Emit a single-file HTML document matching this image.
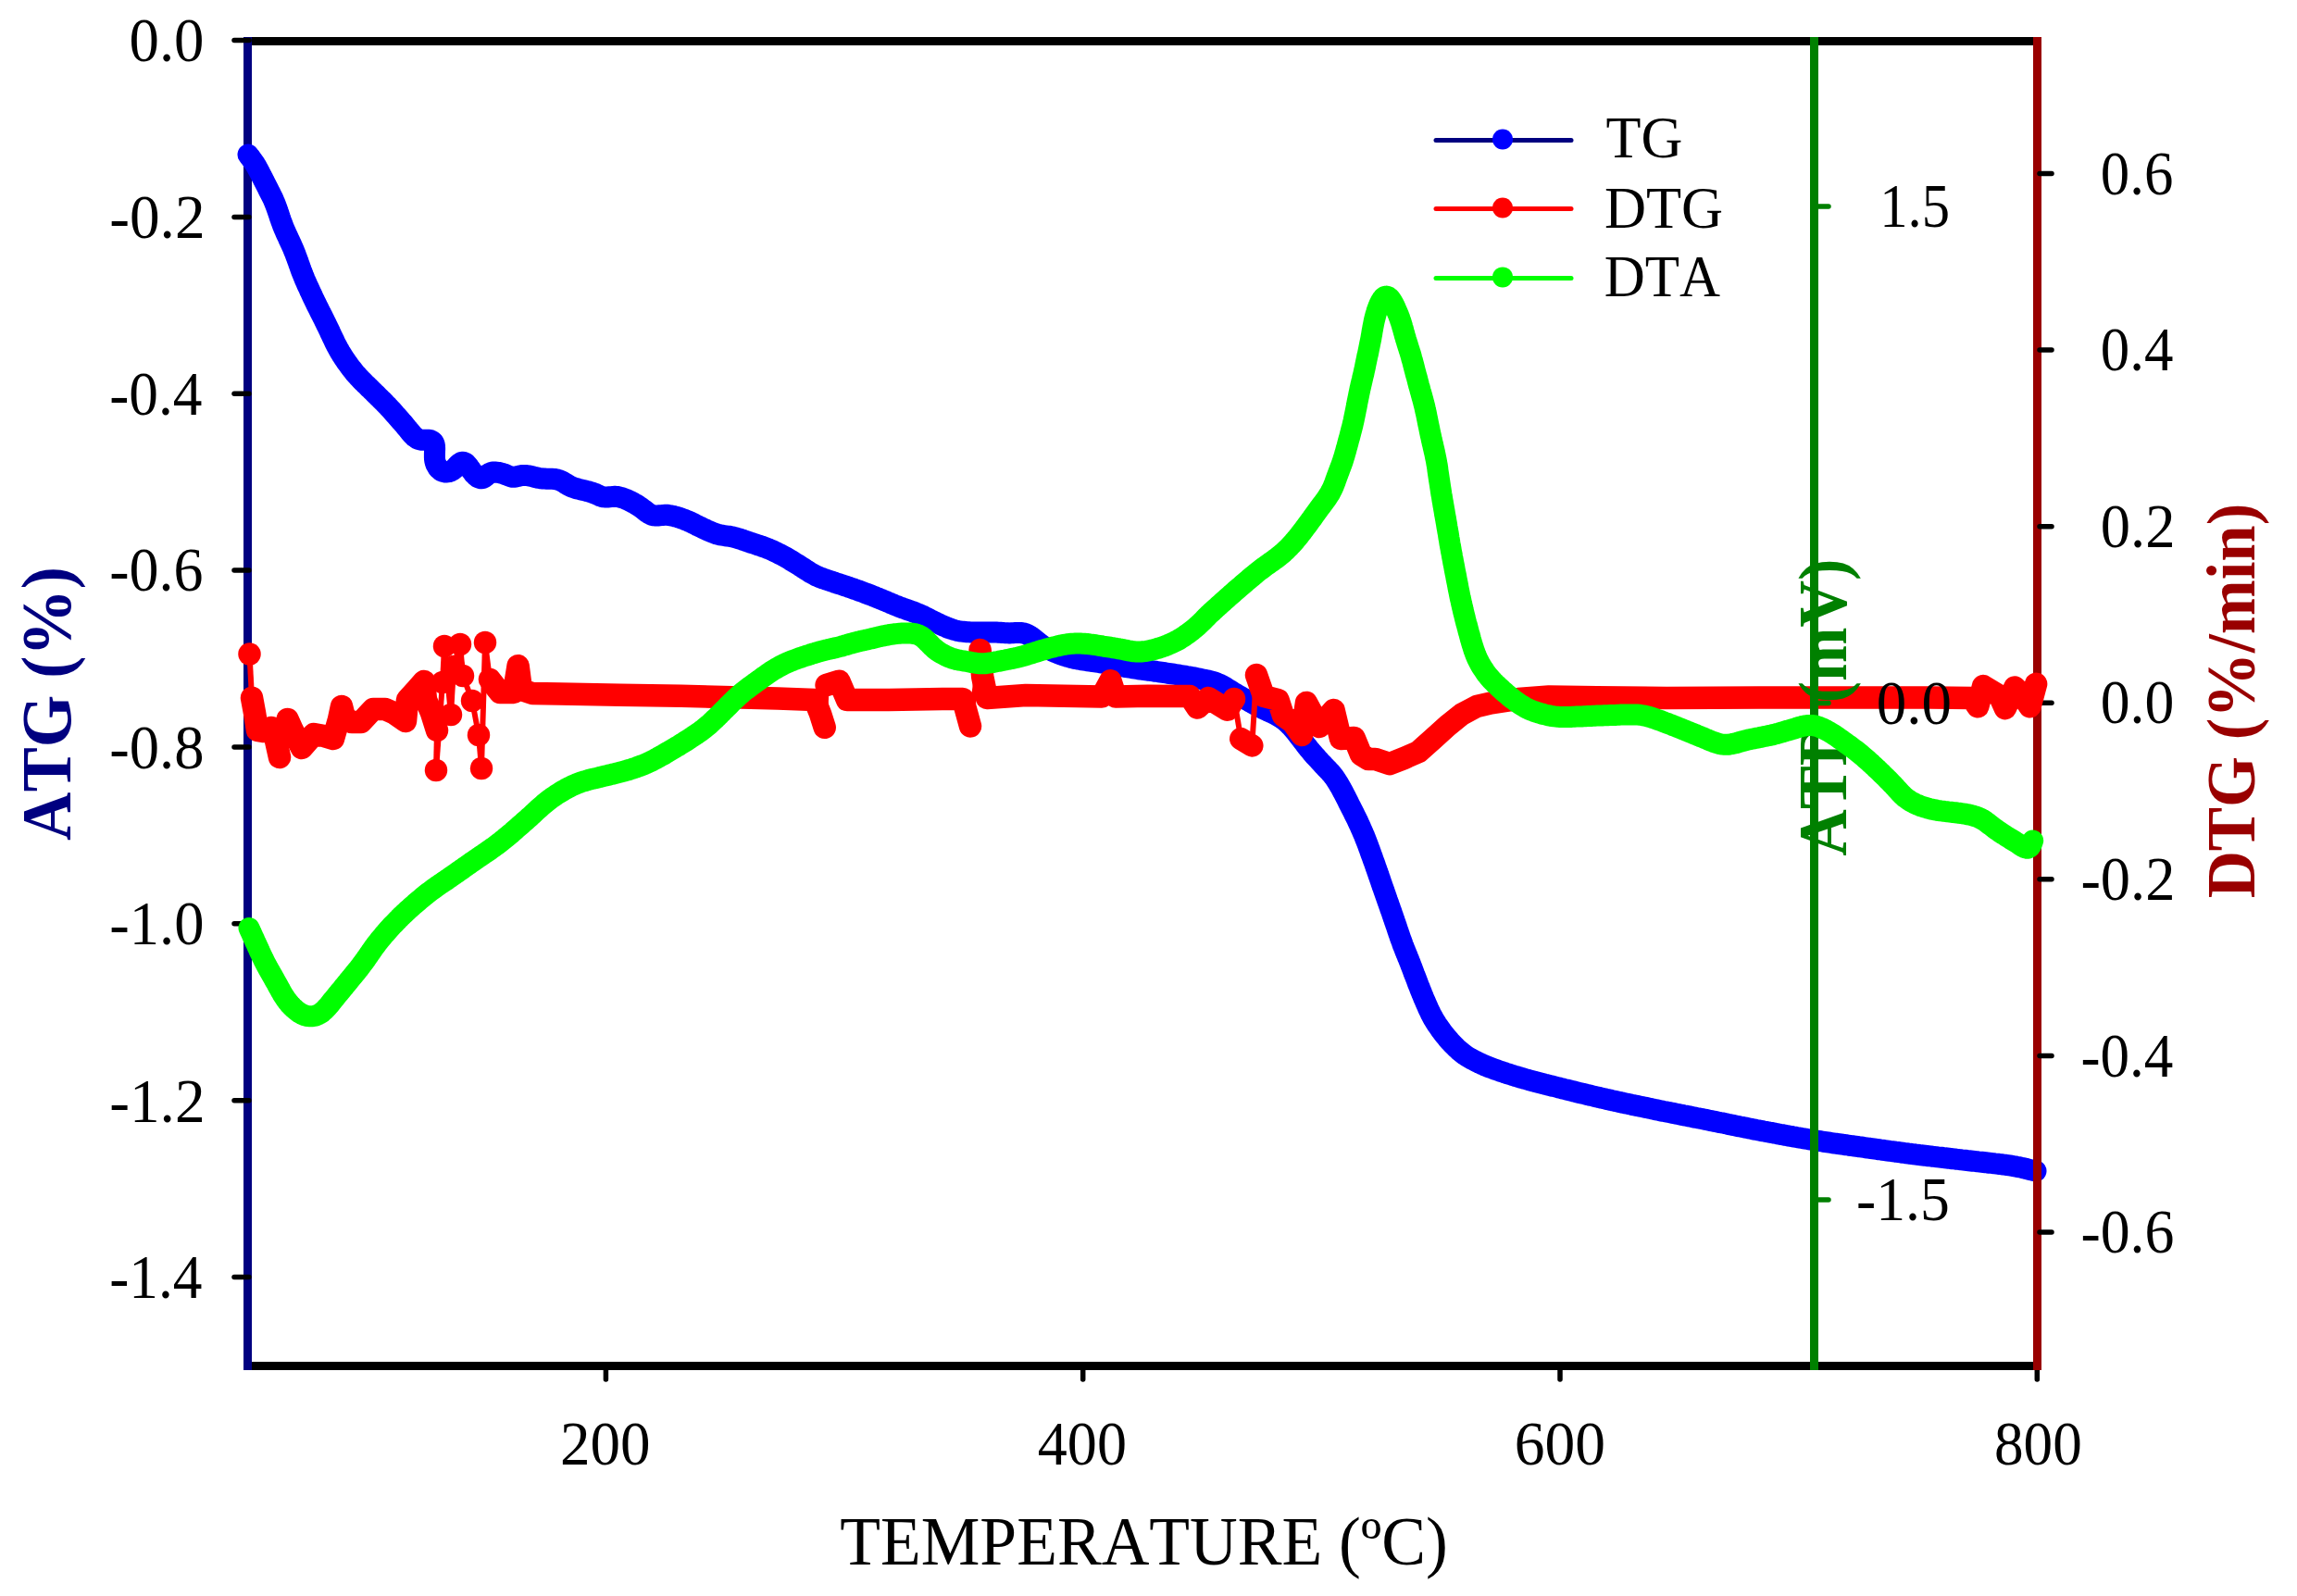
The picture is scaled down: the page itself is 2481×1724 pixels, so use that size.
<!DOCTYPE html><html><head><meta charset="utf-8"><style>html,body{margin:0;padding:0;background:#fff;}svg{display:block} text{font-kerning:none;font-feature-settings:"kern" 0;}</style></head><body><svg width="2481" height="1724" viewBox="0 0 2481 1724">
<rect width="100%" height="100%" fill="#fff"/>
<g stroke="#000" stroke-width="9" stroke-linecap="butt">
<line x1="263" y1="44.5" x2="2205" y2="44.5"/>
<line x1="263" y1="1475.5" x2="2205" y2="1475.5"/>
</g>
<line x1="267.5" y1="40" x2="267.5" y2="1480" stroke="#000080" stroke-width="9" stroke-linecap="butt"/>
<g stroke="#000" stroke-width="5.5" stroke-linecap="round">
<line x1="253" y1="43.5" x2="269" y2="43.5"/>
<line x1="253" y1="234.4" x2="269" y2="234.4"/>
<line x1="253" y1="425.2" x2="269" y2="425.2"/>
<line x1="253" y1="616.1" x2="269" y2="616.1"/>
<line x1="253" y1="806.9" x2="269" y2="806.9"/>
<line x1="253" y1="997.8" x2="269" y2="997.8"/>
<line x1="253" y1="1188.7" x2="269" y2="1188.7"/>
<line x1="253" y1="1379.5" x2="269" y2="1379.5"/>
</g>
<text font-family="Liberation Serif, Times New Roman, serif" font-size="67.5" fill="#000" text-anchor="end" transform="translate(220.49,65.95) scale(0.9600,1)">0.0</text>
<text font-family="Liberation Serif, Times New Roman, serif" font-size="67.5" fill="#000" text-anchor="end" transform="translate(221.51,257.39) scale(0.9670,1)">-0.2</text>
<text font-family="Liberation Serif, Times New Roman, serif" font-size="67.5" fill="#000" text-anchor="end" transform="translate(218.49,447.83) scale(0.9380,1)">-0.4</text>
<text font-family="Liberation Serif, Times New Roman, serif" font-size="67.5" fill="#000" text-anchor="end" transform="translate(219.47,638.27) scale(0.9475,1)">-0.6</text>
<text font-family="Liberation Serif, Times New Roman, serif" font-size="67.5" fill="#000" text-anchor="end" transform="translate(220.48,829.71) scale(0.9572,1)">-0.8</text>
<text font-family="Liberation Serif, Times New Roman, serif" font-size="67.5" fill="#000" text-anchor="end" transform="translate(220.48,1020.15) scale(0.9572,1)">-1.0</text>
<text font-family="Liberation Serif, Times New Roman, serif" font-size="67.5" fill="#000" text-anchor="end" transform="translate(221.51,1211.59) scale(0.9670,1)">-1.2</text>
<text font-family="Liberation Serif, Times New Roman, serif" font-size="67.5" fill="#000" text-anchor="end" transform="translate(218.49,1401.53) scale(0.9380,1)">-1.4</text>
<g stroke="#000" stroke-width="5.5" stroke-linecap="round">
<line x1="654.4" y1="1478" x2="654.4" y2="1490"/>
<line x1="1169.7" y1="1478" x2="1169.7" y2="1490"/>
<line x1="1685.0" y1="1478" x2="1685.0" y2="1490"/>
<line x1="2200.3" y1="1478" x2="2200.3" y2="1490"/>
</g>
<text font-family="Liberation Serif, Times New Roman, serif" font-size="67.5" fill="#000" text-anchor="middle" transform="translate(653.75,1581.90) scale(0.9640,1)">200</text>
<text font-family="Liberation Serif, Times New Roman, serif" font-size="67.5" fill="#000" text-anchor="middle" transform="translate(1168.86,1582.05) scale(0.9490,1)">400</text>
<text font-family="Liberation Serif, Times New Roman, serif" font-size="67.5" fill="#000" text-anchor="middle" transform="translate(1684.90,1582.20) scale(0.9709,1)">600</text>
<text font-family="Liberation Serif, Times New Roman, serif" font-size="67.5" fill="#000" text-anchor="middle" transform="translate(2201.41,1582.20) scale(0.9361,1)">800</text>
<text font-family="Liberation Serif, Times New Roman, serif" font-size="73.5" fill="#000" text-anchor="middle" transform="translate(1235.49,1690.00) scale(0.9740,1)">TEMPERATURE (ºC)</text>
<text font-family="Liberation Serif, Times New Roman, serif" font-size="75.4" font-weight="bold" fill="#000080" text-anchor="middle" transform="translate(75.65,760.01) rotate(-90) scale(0.9614,1)">ATG (%)</text>
<text font-family="Liberation Serif, Times New Roman, serif" font-size="73.6" font-weight="bold" fill="#990000" text-anchor="middle" transform="translate(2434.85,757.00) rotate(-90) scale(0.9614,1)">DTG (%/min)</text>
<polyline points="268.0,167.0 269.7,169.3 270.6,170.4 271.6,171.9 272.8,173.4 273.9,175.0 275.1,176.7 276.1,178.4 277.2,180.1 278.1,181.8 279.1,183.6 280.0,185.4 280.9,187.1 281.8,188.9 282.7,190.7 283.7,192.5 284.6,194.3 285.5,196.1 286.4,197.8 287.3,199.6 288.2,201.4 289.1,203.2 290.0,205.0 290.9,206.8 291.8,208.5 292.7,210.3 293.6,212.1 294.5,213.9 295.3,215.7 296.1,217.6 296.9,219.4 297.6,221.3 298.3,223.1 299.0,225.0 299.7,226.9 300.3,228.8 301.0,230.7 301.6,232.6 302.2,234.5 302.9,236.4 303.5,238.3 304.2,240.1 304.9,242.0 305.6,243.9 306.3,245.7 307.1,247.6 307.9,249.4 308.7,251.3 309.5,253.1 310.4,254.9 311.2,256.7 312.0,258.5 312.9,260.3 313.7,262.2 314.6,264.0 315.4,265.8 316.2,267.6 317.0,269.5 317.7,271.3 318.5,273.2 319.2,275.0 319.9,276.9 320.6,278.8 321.3,280.7 322.0,282.5 322.6,284.4 323.3,286.3 324.0,288.2 324.6,290.1 325.3,292.0 326.0,293.8 326.8,295.7 327.5,297.6 328.3,299.4 329.0,301.3 329.8,303.1 330.6,304.9 331.4,306.8 332.2,308.6 333.1,310.4 333.9,312.2 334.7,314.0 335.6,315.9 336.4,317.7 337.3,319.5 338.1,321.3 339.0,323.1 339.8,324.9 340.7,326.7 341.6,328.5 342.5,330.3 343.4,332.1 344.3,333.9 345.1,335.7 346.0,337.4 346.9,339.2 347.9,341.0 348.8,342.8 349.7,344.6 350.5,346.4 351.4,348.2 352.3,350.0 353.2,351.8 354.1,353.6 354.9,355.4 355.8,357.2 356.6,359.0 357.5,360.8 358.3,362.6 359.1,364.4 360.0,366.2 360.9,368.0 361.7,369.8 362.6,371.6 363.5,373.4 364.5,375.2 365.4,376.9 366.4,378.7 367.4,380.4 368.5,382.1 369.5,383.8 370.6,385.5 371.7,387.2 372.8,388.8 373.9,390.5 375.1,392.1 376.3,393.7 377.4,395.3 378.6,396.9 379.9,398.5 381.1,400.1 382.4,401.7 383.6,403.2 384.9,404.7 386.3,406.2 387.6,407.7 389.0,409.1 390.4,410.6 391.8,412.0 393.2,413.4 394.6,414.8 396.1,416.2 397.5,417.6 398.9,419.0 400.4,420.4 401.8,421.8 403.2,423.2 404.6,424.6 406.1,426.0 407.5,427.4 408.9,428.8 410.3,430.2 411.7,431.6 413.2,433.0 414.6,434.4 416.0,435.9 417.4,437.3 418.8,438.7 420.1,440.2 421.5,441.7 422.9,443.1 424.2,444.6 425.5,446.1 426.8,447.6 428.2,449.1 429.5,450.6 430.8,452.1 432.1,453.6 433.4,455.1 434.8,456.6 436.1,458.1 437.4,459.7 438.6,461.2 439.9,462.8 441.2,464.3 442.4,465.9 443.7,467.4 445.0,468.9 446.4,470.4 447.8,471.7 449.4,472.9 451.0,473.9 452.8,474.7 454.7,475.2 456.6,475.3 458.6,475.3 460.6,475.3 462.5,475.2 464.4,475.4 466.1,476.0 467.5,477.0 468.5,478.4 469.2,480.2 469.5,482.1 469.6,484.0 469.6,486.0 469.5,488.0 469.4,490.0 469.4,492.0 469.4,494.0 469.5,496.0 469.8,497.9 470.3,499.8 471.0,501.7 472.0,503.4 473.0,505.1 474.3,506.6 475.7,507.9 477.3,508.9 479.0,509.6 480.9,510.0 482.8,510.0 484.7,509.7 486.6,509.1 488.3,508.2 489.9,507.1 491.3,505.8 492.7,504.4 494.0,502.9 495.4,501.5 496.9,500.3 498.4,499.4 500.1,499.2 501.7,499.6 503.2,500.6 504.5,502.0 505.8,503.5 506.9,505.1 508.1,506.7 509.3,508.4 510.5,509.9 511.7,511.5 513.1,512.9 514.5,514.3 516.0,515.5 517.7,516.4 519.4,516.8 521.0,516.6 522.6,515.9 524.2,514.8 525.7,513.5 527.2,512.3 528.8,511.3 530.6,510.5 532.4,510.1 534.4,510.0 536.3,510.2 538.3,510.4 540.3,510.8 542.2,511.3 544.1,511.9 546.0,512.6 547.8,513.4 549.6,514.1 551.5,514.8 553.3,515.2 555.2,515.2 557.2,515.0 559.1,514.6 561.0,514.1 562.9,513.7 564.9,513.4 566.8,513.4 568.8,513.5 570.8,513.8 572.7,514.2 574.7,514.7 576.6,515.2 578.6,515.6 580.5,516.1 582.5,516.5 584.4,516.8 586.4,517.0 588.4,517.1 590.4,517.2 592.4,517.2 594.4,517.2 596.4,517.3 598.4,517.4 600.3,517.7 602.3,518.1 604.2,518.7 606.0,519.5 607.8,520.4 609.5,521.4 611.2,522.5 612.9,523.5 614.6,524.5 616.4,525.4 618.2,526.2 620.0,526.9 621.9,527.5 623.9,528.0 625.8,528.5 627.8,529.0 629.7,529.4 631.7,529.9 633.6,530.4 635.5,530.8 637.5,531.4 639.4,532.0 641.2,532.7 643.1,533.4 644.9,534.3 646.7,535.1 648.5,535.9 650.4,536.5 652.3,536.9 654.3,537.1 656.2,537.0 658.2,536.8 660.2,536.6 662.2,536.4 664.1,536.3 666.1,536.4 668.1,536.8 670.0,537.2 671.9,537.8 673.8,538.4 675.6,539.1 677.5,539.9 679.3,540.7 681.1,541.6 682.9,542.5 684.6,543.5 686.4,544.5 688.1,545.5 689.7,546.6 691.4,547.7 693.1,548.9 694.7,550.1 696.2,551.3 697.8,552.5 699.4,553.7 701.1,554.8 702.8,555.7 704.6,556.5 706.5,556.9 708.4,557.1 710.4,557.0 712.4,556.8 714.3,556.6 716.3,556.4 718.3,556.3 720.3,556.3 722.3,556.5 724.2,556.8 726.2,557.2 728.1,557.6 730.0,558.2 732.0,558.7 733.9,559.3 735.8,560.0 737.7,560.6 739.5,561.3 741.4,562.1 743.2,562.8 745.1,563.6 746.9,564.5 748.7,565.4 750.5,566.3 752.2,567.2 754.0,568.1 755.8,568.9 757.6,569.8 759.4,570.7 761.2,571.5 763.1,572.4 764.9,573.2 766.7,574.0 768.5,574.8 770.4,575.5 772.3,576.2 774.2,576.9 776.1,577.4 778.0,577.9 780.0,578.2 781.9,578.5 783.9,578.8 785.9,579.1 787.9,579.3 789.9,579.7 791.8,580.1 793.8,580.6 795.7,581.1 797.6,581.7 799.5,582.3 801.4,582.9 803.3,583.6 805.2,584.2 807.1,584.9 808.9,585.5 810.8,586.2 812.7,586.8 814.6,587.4 816.5,588.0 818.4,588.7 820.3,589.3 822.2,589.9 824.1,590.6 826.0,591.3 827.9,592.0 829.7,592.7 831.6,593.5 833.4,594.3 835.2,595.1 837.0,596.0 838.8,596.8 840.6,597.7 842.4,598.6 844.2,599.5 846.0,600.5 847.7,601.4 849.5,602.4 851.2,603.4 852.9,604.4 854.6,605.5 856.3,606.5 858.0,607.6 859.7,608.6 861.4,609.7 863.1,610.7 864.8,611.8 866.5,612.9 868.2,614.0 869.8,615.1 871.5,616.2 873.2,617.2 874.9,618.3 876.6,619.3 878.4,620.3 880.1,621.2 881.9,622.1 883.8,622.9 885.6,623.7 887.5,624.4 889.4,625.1 891.2,625.7 893.1,626.4 895.0,627.0 896.9,627.6 898.8,628.3 900.7,628.9 902.6,629.6 904.5,630.2 906.4,630.8 908.3,631.4 910.2,632.0 912.1,632.7 914.0,633.3 915.9,633.9 917.8,634.6 919.7,635.2 921.6,635.9 923.5,636.6 925.3,637.2 927.2,637.9 929.1,638.6 931.0,639.3 932.9,640.0 934.7,640.7 936.6,641.4 938.5,642.1 940.3,642.8 942.2,643.5 944.1,644.3 945.9,645.0 947.8,645.8 949.6,646.5 951.5,647.3 953.3,648.0 955.2,648.8 957.0,649.6 958.9,650.4 960.7,651.1 962.5,651.9 964.4,652.7 966.2,653.5 968.1,654.2 970.0,654.9 971.8,655.7 973.7,656.4 975.6,657.1 977.4,657.7 979.3,658.4 981.2,659.1 983.1,659.8 985.0,660.4 986.9,661.1 988.7,661.8 990.6,662.6 992.4,663.3 994.3,664.1 996.1,664.9 997.9,665.8 999.7,666.7 1001.5,667.6 1003.2,668.5 1005.0,669.5 1006.8,670.4 1008.6,671.3 1010.4,672.1 1012.2,673.0 1014.0,673.8 1015.8,674.7 1017.6,675.5 1019.5,676.3 1021.3,677.1 1023.1,677.9 1025.0,678.6 1026.9,679.3 1028.8,679.9 1030.7,680.5 1032.6,681.0 1034.6,681.5 1036.5,681.8 1038.5,682.1 1040.5,682.3 1042.5,682.5 1044.5,682.7 1046.5,682.8 1048.5,682.9 1050.5,683.0 1052.5,683.1 1054.5,683.1 1056.5,683.1 1058.5,683.1 1060.5,683.1 1062.5,683.1 1064.5,683.0 1066.4,683.0 1068.4,683.0 1070.4,683.0 1072.4,683.0 1074.4,683.0 1076.4,683.1 1078.4,683.2 1080.4,683.3 1082.4,683.5 1084.4,683.6 1086.4,683.8 1088.4,683.8 1090.4,683.9 1092.4,683.8 1094.4,683.7 1096.4,683.6 1098.4,683.5 1100.4,683.4 1102.4,683.5 1104.3,683.7 1106.3,684.1 1108.1,684.7 1109.9,685.5 1111.7,686.5 1113.4,687.6 1115.0,688.7 1116.6,689.9 1118.1,691.2 1119.7,692.4 1121.2,693.7 1122.8,694.9 1124.4,696.2 1126.0,697.3 1127.7,698.4 1129.4,699.5 1131.1,700.5 1132.9,701.4 1134.6,702.3 1136.5,703.2 1138.3,704.0 1140.1,704.8 1142.0,705.5 1143.8,706.3 1145.7,707.0 1147.6,707.6 1149.5,708.3 1151.4,708.9 1153.3,709.5 1155.2,710.0 1157.2,710.5 1159.1,711.0 1161.0,711.4 1163.0,711.8 1165.0,712.2 1166.9,712.5 1168.9,712.9 1170.9,713.2 1172.9,713.5 1174.8,713.8 1176.8,714.0 1178.8,714.3 1180.8,714.6 1182.8,714.9 1184.7,715.2 1186.7,715.5 1188.7,715.8 1190.7,716.1 1192.6,716.5 1194.6,716.8 1196.6,717.1 1198.6,717.5 1200.5,717.8 1202.5,718.2 1204.5,718.5 1206.4,718.9 1208.4,719.2 1210.4,719.6 1212.3,719.9 1214.3,720.2 1216.3,720.6 1218.3,720.9 1220.2,721.2 1222.2,721.5 1224.2,721.9 1226.2,722.2 1228.1,722.5 1230.1,722.8 1232.1,723.1 1234.1,723.3 1236.1,723.6 1238.0,723.9 1240.0,724.2 1242.0,724.4 1244.0,724.7 1246.0,725.0 1247.9,725.2 1249.9,725.5 1251.9,725.8 1253.9,726.1 1255.9,726.4 1257.8,726.7 1259.8,727.0 1261.8,727.3 1263.8,727.6 1265.7,727.9 1267.7,728.2 1269.7,728.5 1271.7,728.8 1273.6,729.2 1275.6,729.5 1277.6,729.8 1279.6,730.1 1281.5,730.5 1283.5,730.8 1285.5,731.2 1287.4,731.5 1289.4,731.9 1291.4,732.3 1293.3,732.7 1295.3,733.1 1297.3,733.5 1299.2,733.9 1301.2,734.3 1303.1,734.7 1305.1,735.1 1307.0,735.6 1309.0,736.1 1310.9,736.6 1312.8,737.3 1314.6,738.0 1316.5,738.8 1318.3,739.6 1320.0,740.5 1321.8,741.5 1323.5,742.5 1325.2,743.6 1326.9,744.6 1328.6,745.7 1330.3,746.7 1332.0,747.8 1333.7,748.8 1335.5,749.8 1337.2,750.8 1338.9,751.8 1340.7,752.8 1342.4,753.8 1344.2,754.8 1345.9,755.7 1347.7,756.7 1349.4,757.7 1351.2,758.6 1352.9,759.6 1354.7,760.5 1356.4,761.5 1358.2,762.4 1360.0,763.4 1361.7,764.3 1363.5,765.2 1365.3,766.1 1367.1,766.9 1368.9,767.8 1370.8,768.6 1372.6,769.4 1374.4,770.2 1376.2,771.1 1378.0,772.0 1379.7,773.0 1381.4,774.0 1383.1,775.1 1384.8,776.2 1386.4,777.4 1388.0,778.6 1389.5,779.9 1391.0,781.2 1392.4,782.6 1393.8,784.0 1395.2,785.5 1396.5,787.0 1397.8,788.5 1399.1,790.1 1400.3,791.6 1401.6,793.2 1402.8,794.8 1404.0,796.3 1405.3,797.9 1406.5,799.5 1407.7,801.1 1408.9,802.7 1410.1,804.3 1411.3,805.9 1412.6,807.4 1413.8,809.0 1415.1,810.5 1416.4,812.1 1417.7,813.6 1419.0,815.1 1420.3,816.6 1421.7,818.0 1423.0,819.5 1424.4,821.0 1425.7,822.5 1427.1,824.0 1428.4,825.4 1429.8,826.9 1431.2,828.3 1432.6,829.8 1433.9,831.2 1435.3,832.7 1436.7,834.1 1438.0,835.6 1439.3,837.2 1440.5,838.7 1441.7,840.4 1442.8,842.0 1443.9,843.7 1445.0,845.4 1446.0,847.1 1447.0,848.8 1448.0,850.5 1449.0,852.3 1449.9,854.1 1450.9,855.8 1451.8,857.6 1452.7,859.4 1453.6,861.2 1454.5,862.9 1455.4,864.7 1456.3,866.5 1457.2,868.3 1458.1,870.1 1459.0,871.9 1459.9,873.6 1460.8,875.4 1461.7,877.2 1462.6,879.0 1463.5,880.8 1464.4,882.6 1465.3,884.4 1466.1,886.2 1467.0,888.0 1467.8,889.8 1468.7,891.6 1469.5,893.5 1470.3,895.3 1471.1,897.1 1471.9,899.0 1472.7,900.8 1473.5,902.6 1474.2,904.5 1474.9,906.3 1475.7,908.2 1476.4,910.1 1477.1,911.9 1477.8,913.8 1478.5,915.7 1479.2,917.6 1479.9,919.5 1480.5,921.3 1481.2,923.2 1481.9,925.1 1482.6,927.0 1483.2,928.9 1483.9,930.7 1484.6,932.6 1485.3,934.5 1485.9,936.4 1486.6,938.3 1487.3,940.2 1487.9,942.1 1488.6,944.0 1489.2,945.8 1489.9,947.7 1490.5,949.6 1491.2,951.5 1491.8,953.4 1492.5,955.3 1493.1,957.2 1493.8,959.1 1494.5,961.0 1495.1,962.8 1495.8,964.7 1496.4,966.6 1497.1,968.5 1497.8,970.4 1498.4,972.3 1499.1,974.2 1499.8,976.1 1500.4,977.9 1501.1,979.8 1501.7,981.7 1502.4,983.6 1503.1,985.5 1503.7,987.4 1504.4,989.3 1505.0,991.2 1505.7,993.1 1506.3,995.0 1507.0,996.8 1507.6,998.7 1508.3,1000.6 1508.9,1002.5 1509.5,1004.4 1510.2,1006.3 1510.8,1008.2 1511.5,1010.1 1512.1,1012.0 1512.8,1013.9 1513.5,1015.8 1514.2,1017.6 1514.8,1019.5 1515.5,1021.4 1516.3,1023.3 1517.0,1025.1 1517.7,1027.0 1518.5,1028.8 1519.2,1030.7 1520.0,1032.5 1520.7,1034.4 1521.5,1036.2 1522.2,1038.1 1523.0,1040.0 1523.7,1041.8 1524.4,1043.7 1525.1,1045.6 1525.8,1047.4 1526.5,1049.3 1527.2,1051.2 1527.9,1053.0 1528.7,1054.9 1529.4,1056.8 1530.1,1058.6 1530.8,1060.5 1531.5,1062.4 1532.2,1064.2 1533.0,1066.1 1533.7,1068.0 1534.4,1069.8 1535.2,1071.7 1535.9,1073.5 1536.7,1075.4 1537.4,1077.2 1538.2,1079.1 1539.0,1080.9 1539.8,1082.8 1540.6,1084.6 1541.4,1086.4 1542.2,1088.3 1543.0,1090.1 1543.9,1091.9 1544.7,1093.7 1545.6,1095.5 1546.6,1097.3 1547.5,1099.0 1548.5,1100.8 1549.5,1102.5 1550.6,1104.2 1551.6,1105.9 1552.7,1107.5 1553.9,1109.2 1555.0,1110.8 1556.2,1112.5 1557.3,1114.1 1558.6,1115.7 1559.8,1117.2 1561.0,1118.8 1562.3,1120.3 1563.6,1121.9 1564.9,1123.4 1566.2,1124.9 1567.6,1126.3 1569.0,1127.8 1570.3,1129.2 1571.8,1130.7 1573.2,1132.1 1574.7,1133.4 1576.1,1134.7 1577.7,1136.0 1579.2,1137.3 1580.8,1138.5 1582.4,1139.7 1584.1,1140.8 1585.8,1141.8 1587.5,1142.9 1589.2,1143.9 1591.0,1144.8 1592.8,1145.7 1594.6,1146.6 1596.3,1147.5 1598.1,1148.4 1600.0,1149.2 1601.8,1150.1 1603.6,1150.9 1605.5,1151.6 1607.3,1152.4 1609.2,1153.1 1611.1,1153.8 1612.9,1154.5 1614.8,1155.2 1616.7,1155.8 1618.6,1156.5 1620.5,1157.2 1622.4,1157.8 1624.3,1158.4 1626.2,1159.1 1628.1,1159.7 1630.0,1160.3 1631.9,1160.9 1633.8,1161.5 1635.7,1162.1 1637.6,1162.7 1639.5,1163.2 1641.4,1163.8 1643.4,1164.4 1645.3,1164.9 1647.2,1165.5 1649.1,1166.0 1651.1,1166.6 1653.0,1167.1 1654.9,1167.6 1656.8,1168.1 1658.8,1168.7 1660.7,1169.2 1662.6,1169.7 1664.6,1170.2 1666.5,1170.7 1668.5,1171.2 1670.4,1171.6 1672.3,1172.1 1674.3,1172.6 1676.2,1173.1 1678.2,1173.5 1680.1,1174.0 1682.0,1174.5 1684.0,1175.0 1685.9,1175.5 1687.9,1176.0 1689.8,1176.5 1691.7,1177.0 1693.7,1177.4 1695.6,1177.9 1697.6,1178.4 1699.5,1178.9 1701.5,1179.3 1703.4,1179.8 1705.3,1180.3 1707.3,1180.8 1709.2,1181.2 1711.2,1181.7 1713.1,1182.2 1715.1,1182.6 1717.0,1183.1 1719.0,1183.5 1720.9,1184.0 1722.9,1184.5 1724.8,1184.9 1726.7,1185.4 1728.7,1185.8 1730.6,1186.3 1732.6,1186.7 1734.5,1187.2 1736.5,1187.6 1738.4,1188.0 1740.4,1188.5 1742.3,1188.9 1744.3,1189.4 1746.3,1189.8 1748.2,1190.2 1750.2,1190.6 1752.1,1191.1 1754.1,1191.5 1756.0,1191.9 1758.0,1192.3 1759.9,1192.7 1761.9,1193.2 1763.9,1193.6 1765.8,1194.0 1767.8,1194.4 1769.7,1194.8 1771.7,1195.2 1773.6,1195.6 1775.6,1196.0 1777.6,1196.4 1779.5,1196.8 1781.5,1197.2 1783.4,1197.6 1785.4,1198.1 1787.3,1198.5 1789.3,1198.9 1791.3,1199.3 1793.2,1199.7 1795.2,1200.1 1797.1,1200.5 1799.1,1200.8 1801.1,1201.2 1803.0,1201.6 1805.0,1202.0 1807.0,1202.4 1808.9,1202.8 1810.9,1203.2 1812.8,1203.6 1814.8,1204.0 1816.8,1204.4 1818.7,1204.8 1820.7,1205.1 1822.6,1205.5 1824.6,1205.9 1826.6,1206.3 1828.5,1206.7 1830.5,1207.1 1832.5,1207.5 1834.4,1207.8 1836.4,1208.2 1838.3,1208.6 1840.3,1209.0 1842.3,1209.4 1844.2,1209.8 1846.2,1210.2 1848.2,1210.6 1850.1,1211.0 1852.1,1211.4 1854.0,1211.8 1856.0,1212.2 1858.0,1212.6 1859.9,1212.9 1861.9,1213.3 1863.8,1213.7 1865.8,1214.2 1867.8,1214.6 1869.7,1215.0 1871.7,1215.4 1873.6,1215.8 1875.6,1216.2 1877.6,1216.6 1879.5,1217.0 1881.5,1217.3 1883.4,1217.7 1885.4,1218.1 1887.4,1218.5 1889.3,1218.9 1891.3,1219.3 1893.2,1219.7 1895.2,1220.1 1897.2,1220.5 1899.1,1220.8 1901.1,1221.2 1903.1,1221.6 1905.0,1222.0 1907.0,1222.3 1909.0,1222.7 1910.9,1223.1 1912.9,1223.4 1914.9,1223.8 1916.8,1224.2 1918.8,1224.5 1920.7,1224.9 1922.7,1225.3 1924.7,1225.6 1926.6,1226.0 1928.6,1226.4 1930.6,1226.7 1932.6,1227.1 1934.5,1227.4 1936.5,1227.8 1938.5,1228.1 1940.4,1228.5 1942.4,1228.8 1944.4,1229.2 1946.3,1229.5 1948.3,1229.8 1950.3,1230.2 1952.3,1230.5 1954.2,1230.8 1956.2,1231.2 1958.2,1231.5 1960.2,1231.8 1962.1,1232.1 1964.1,1232.4 1966.1,1232.7 1968.1,1233.0 1970.0,1233.3 1972.0,1233.6 1974.0,1233.9 1976.0,1234.2 1977.9,1234.5 1979.9,1234.8 1981.9,1235.1 1983.9,1235.3 1985.9,1235.6 1987.8,1235.9 1989.8,1236.2 1991.8,1236.5 1993.8,1236.7 1995.8,1237.0 1997.7,1237.3 1999.7,1237.6 2001.7,1237.8 2003.7,1238.1 2005.7,1238.4 2007.7,1238.7 2009.6,1238.9 2011.6,1239.2 2013.6,1239.5 2015.6,1239.8 2017.6,1240.1 2019.5,1240.3 2021.5,1240.6 2023.5,1240.9 2025.5,1241.2 2027.5,1241.5 2029.4,1241.7 2031.4,1242.0 2033.4,1242.3 2035.4,1242.5 2037.4,1242.8 2039.3,1243.1 2041.3,1243.4 2043.3,1243.6 2045.3,1243.9 2047.3,1244.2 2049.3,1244.4 2051.2,1244.7 2053.2,1245.0 2055.2,1245.2 2057.2,1245.5 2059.2,1245.8 2061.2,1246.0 2063.1,1246.3 2065.1,1246.5 2067.1,1246.8 2069.1,1247.0 2071.1,1247.3 2073.1,1247.5 2075.0,1247.8 2077.0,1248.0 2079.0,1248.2 2081.0,1248.5 2083.0,1248.7 2085.0,1248.9 2087.0,1249.2 2088.9,1249.4 2090.9,1249.6 2092.9,1249.9 2094.9,1250.1 2096.9,1250.3 2098.9,1250.5 2100.9,1250.8 2102.9,1251.0 2104.8,1251.2 2106.8,1251.5 2108.8,1251.7 2110.8,1251.9 2112.8,1252.2 2114.8,1252.4 2116.8,1252.6 2118.7,1252.9 2120.7,1253.1 2122.7,1253.3 2124.7,1253.5 2126.7,1253.8 2128.7,1254.0 2130.7,1254.2 2132.7,1254.4 2134.6,1254.6 2136.6,1254.9 2138.6,1255.1 2140.6,1255.3 2142.6,1255.5 2144.6,1255.7 2146.6,1256.0 2148.6,1256.2 2150.6,1256.4 2152.5,1256.6 2154.5,1256.9 2156.5,1257.1 2158.5,1257.3 2160.5,1257.6 2162.5,1257.8 2164.4,1258.1 2166.4,1258.3 2168.4,1258.6 2170.4,1258.9 2172.4,1259.2 2174.3,1259.6 2176.3,1259.9 2178.3,1260.3 2180.2,1260.6 2182.2,1261.0 2184.1,1261.5 2186.1,1261.9 2188.0,1262.4 2190.0,1262.8 2191.9,1263.3 2193.8,1263.8 2195.4,1264.2 2196.8,1264.5 2199.0,1265.0" fill="none" stroke="#0000ff" stroke-width="23" stroke-linejoin="round" stroke-linecap="round"/>
<line x1="2200.5" y1="40" x2="2200.5" y2="1480" stroke="#990000" stroke-width="9" stroke-linecap="butt"/>
<g stroke="#000" stroke-width="5.5" stroke-linecap="round">
<line x1="2203" y1="187.5" x2="2216" y2="187.5"/>
<line x1="2203" y1="378.1" x2="2216" y2="378.1"/>
<line x1="2203" y1="568.7" x2="2216" y2="568.7"/>
<line x1="2203" y1="759.2" x2="2216" y2="759.2"/>
<line x1="2203" y1="949.8" x2="2216" y2="949.8"/>
<line x1="2203" y1="1140.4" x2="2216" y2="1140.4"/>
<line x1="2203" y1="1331.0" x2="2216" y2="1331.0"/>
</g>
<text font-family="Liberation Serif, Times New Roman, serif" font-size="67.5" fill="#000" text-anchor="end" transform="translate(2347.38,210.10) scale(0.9315,1)">0.6</text>
<text font-family="Liberation Serif, Times New Roman, serif" font-size="67.5" fill="#000" text-anchor="end" transform="translate(2347.40,400.42) scale(0.9319,1)">0.4</text>
<text font-family="Liberation Serif, Times New Roman, serif" font-size="67.5" fill="#000" text-anchor="end" transform="translate(2349.43,590.74) scale(0.9564,1)">0.2</text>
<text font-family="Liberation Serif, Times New Roman, serif" font-size="67.5" fill="#000" text-anchor="end" transform="translate(2348.39,781.06) scale(0.9438,1)">0.0</text>
<text font-family="Liberation Serif, Times New Roman, serif" font-size="67.5" fill="#000" text-anchor="end" transform="translate(2349.42,972.38) scale(0.9550,1)">-0.2</text>
<text font-family="Liberation Serif, Times New Roman, serif" font-size="67.5" fill="#000" text-anchor="end" transform="translate(2347.40,1162.70) scale(0.9357,1)">-0.4</text>
<text font-family="Liberation Serif, Times New Roman, serif" font-size="67.5" fill="#000" text-anchor="end" transform="translate(2348.40,1353.02) scale(0.9452,1)">-0.6</text>
<line x1="269.5" y1="706.5" x2="272.0" y2="753.7" stroke="#ff0000" stroke-width="6"/>
<line x1="302.0" y1="818.0" x2="310.6" y2="777.0" stroke="#ff0000" stroke-width="6"/>
<line x1="472.0" y1="789.0" x2="471.0" y2="832.0" stroke="#ff0000" stroke-width="6"/>
<line x1="471.0" y1="832.0" x2="478.0" y2="737.0" stroke="#ff0000" stroke-width="6"/>
<line x1="478.0" y1="737.0" x2="480.0" y2="698.0" stroke="#ff0000" stroke-width="6"/>
<line x1="480.0" y1="698.0" x2="487.0" y2="772.0" stroke="#ff0000" stroke-width="6"/>
<line x1="487.0" y1="772.0" x2="490.0" y2="720.0" stroke="#ff0000" stroke-width="6"/>
<line x1="490.0" y1="720.0" x2="497.0" y2="696.0" stroke="#ff0000" stroke-width="6"/>
<line x1="497.0" y1="696.0" x2="500.0" y2="730.0" stroke="#ff0000" stroke-width="6"/>
<line x1="500.0" y1="730.0" x2="510.0" y2="757.0" stroke="#ff0000" stroke-width="6"/>
<line x1="510.0" y1="757.0" x2="517.0" y2="794.0" stroke="#ff0000" stroke-width="6"/>
<line x1="517.0" y1="794.0" x2="520.0" y2="830.0" stroke="#ff0000" stroke-width="6"/>
<line x1="520.0" y1="830.0" x2="524.0" y2="694.0" stroke="#ff0000" stroke-width="6"/>
<line x1="524.0" y1="694.0" x2="529.0" y2="734.0" stroke="#ff0000" stroke-width="6"/>
<line x1="890.7" y1="785.8" x2="892.6" y2="740.0" stroke="#ff0000" stroke-width="6"/>
<line x1="1048.0" y1="784.4" x2="1058.6" y2="701.9" stroke="#ff0000" stroke-width="6"/>
<line x1="1333.0" y1="755.0" x2="1340.3" y2="798.1" stroke="#ff0000" stroke-width="6"/>
<line x1="1352.3" y1="805.4" x2="1357.0" y2="729.1" stroke="#ff0000" stroke-width="6"/>
<circle cx="269.5" cy="706.5" r="12.25" fill="#ff0000"/>
<polyline points="272.0,753.7 275.0,770.0 278.0,789.0 284.0,790.0 293.0,786.0 298.0,800.0 302.0,818.0" fill="none" stroke="#ff0000" stroke-width="24.5" stroke-linejoin="round" stroke-linecap="round"/>
<polyline points="310.6,777.0 316.0,789.0 326.0,808.0 333.0,800.0 339.0,793.0 350.0,795.0 360.0,798.0 366.0,777.0 369.0,763.0 372.0,775.0 380.0,780.0 390.0,780.0 403.0,766.0 416.0,766.0 425.0,770.0 438.0,779.0 440.0,756.0 450.0,745.0 458.0,736.0 460.0,756.0 466.0,770.0 472.0,789.0" fill="none" stroke="#ff0000" stroke-width="24.5" stroke-linejoin="round" stroke-linecap="round"/>
<circle cx="471.0" cy="832.0" r="12.25" fill="#ff0000"/>
<circle cx="478.0" cy="737.0" r="12.25" fill="#ff0000"/>
<circle cx="480.0" cy="698.0" r="12.25" fill="#ff0000"/>
<circle cx="487.0" cy="772.0" r="12.25" fill="#ff0000"/>
<circle cx="490.0" cy="720.0" r="12.25" fill="#ff0000"/>
<circle cx="497.0" cy="696.0" r="12.25" fill="#ff0000"/>
<circle cx="500.0" cy="730.0" r="12.25" fill="#ff0000"/>
<circle cx="510.0" cy="757.0" r="12.25" fill="#ff0000"/>
<circle cx="517.0" cy="794.0" r="12.25" fill="#ff0000"/>
<circle cx="520.0" cy="830.0" r="12.25" fill="#ff0000"/>
<circle cx="524.0" cy="694.0" r="12.25" fill="#ff0000"/>
<polyline points="529.0,734.0 540.0,748.0 555.0,748.0 559.6,719.2 563.0,745.0 575.0,749.0 605.0,749.5 670.0,750.8 736.0,751.8 801.0,753.4 840.0,754.4 880.0,756.0 886.0,771.0 890.7,785.8" fill="none" stroke="#ff0000" stroke-width="24.5" stroke-linejoin="round" stroke-linecap="round"/>
<polyline points="892.6,740.0 906.4,735.7 915.0,756.0 960.0,756.0 1020.0,755.0 1040.0,755.0 1048.0,784.4" fill="none" stroke="#ff0000" stroke-width="24.5" stroke-linejoin="round" stroke-linecap="round"/>
<polyline points="1058.6,701.9 1061.2,730.9 1066.0,754.0 1108.0,751.0 1190.0,752.5 1199.4,735.3 1205.0,752.5 1240.0,751.8 1285.0,752.0 1293.3,764.6 1305.0,754.0 1325.7,766.7 1333.0,755.0" fill="none" stroke="#ff0000" stroke-width="24.5" stroke-linejoin="round" stroke-linecap="round"/>
<polyline points="1340.3,798.1 1352.3,805.4" fill="none" stroke="#ff0000" stroke-width="24.5" stroke-linejoin="round" stroke-linecap="round"/>
<polyline points="1357.0,729.1 1365.0,752.0 1380.5,756.0 1386.0,773.0 1396.0,780.0 1406.0,794.0 1411.0,759.0 1425.0,785.0 1440.6,767.0 1448.0,798.0 1462.6,797.0 1470.0,815.0 1478.0,820.0 1485.3,819.9 1501.0,825.2 1516.6,819.0 1532.3,812.0 1548.0,798.0 1563.6,783.9 1579.3,771.3 1595.0,763.0 1610.6,759.4 1640.0,755.0 1673.0,752.5 1725.0,753.2 1800.0,754.0 1900.0,753.5 2000.0,753.5 2085.0,753.5 2130.0,754.0 2136.2,763.3 2142.1,741.1 2160.0,752.0 2165.8,765.1 2176.2,742.6 2185.0,752.0 2192.5,763.3 2199.1,738.9" fill="none" stroke="#ff0000" stroke-width="24.5" stroke-linejoin="round" stroke-linecap="round"/>
<text font-family="Liberation Serif, Times New Roman, serif" font-size="74.7" font-weight="bold" fill="#008000" text-anchor="middle" transform="translate(1993.95,764.11) rotate(-90) scale(0.9381,1)">ATD (mV)</text>
<line x1="1959.5" y1="40" x2="1959.5" y2="1480" stroke="#008000" stroke-width="9" stroke-linecap="butt"/>
<g stroke="#008000" stroke-width="5.5" stroke-linecap="round">
<line x1="1962" y1="223" x2="1975" y2="223"/>
<line x1="1962" y1="759.5" x2="1975" y2="759.5"/>
<line x1="1962" y1="1296" x2="1975" y2="1296"/>
</g>
<text font-family="Liberation Serif, Times New Roman, serif" font-size="67.5" fill="#000" text-anchor="end" transform="translate(2106.00,244.70) scale(0.8993,1)">1.5</text>
<text font-family="Liberation Serif, Times New Roman, serif" font-size="67.5" fill="#000" text-anchor="end" transform="translate(2107.93,782.40) scale(0.9638,1)">0.0</text>
<text font-family="Liberation Serif, Times New Roman, serif" font-size="67.5" fill="#000" text-anchor="end" transform="translate(2105.79,1318.05) scale(0.9431,1)">-1.5</text>
<polyline points="269.0,1002.5 270.8,1006.4 271.3,1007.4 271.8,1008.7 272.5,1010.1 273.2,1011.8 274.0,1013.5 274.8,1015.2 275.6,1017.1 276.5,1018.9 277.3,1020.7 278.1,1022.5 279.0,1024.3 279.8,1026.2 280.6,1028.0 281.5,1029.8 282.3,1031.6 283.1,1033.4 284.0,1035.2 284.9,1037.0 285.8,1038.8 286.7,1040.6 287.6,1042.4 288.6,1044.1 289.5,1045.9 290.5,1047.6 291.5,1049.4 292.5,1051.1 293.5,1052.8 294.5,1054.6 295.5,1056.3 296.4,1058.0 297.4,1059.8 298.4,1061.5 299.4,1063.3 300.3,1065.0 301.3,1066.8 302.3,1068.5 303.2,1070.3 304.2,1072.0 305.2,1073.8 306.2,1075.5 307.3,1077.1 308.4,1078.8 309.6,1080.4 310.8,1082.0 312.1,1083.6 313.4,1085.1 314.7,1086.5 316.1,1087.9 317.6,1089.3 319.1,1090.6 320.6,1091.9 322.2,1093.1 323.8,1094.2 325.5,1095.2 327.3,1096.0 329.1,1096.7 331.0,1097.3 332.9,1097.6 334.8,1097.8 336.7,1097.8 338.6,1097.6 340.5,1097.2 342.3,1096.5 344.1,1095.7 345.8,1094.8 347.4,1093.7 348.9,1092.4 350.4,1091.1 351.8,1089.7 353.2,1088.2 354.5,1086.7 355.8,1085.2 357.0,1083.7 358.3,1082.1 359.5,1080.5 360.8,1079.0 362.1,1077.4 363.3,1075.9 364.6,1074.3 365.9,1072.8 367.1,1071.3 368.4,1069.7 369.7,1068.2 370.9,1066.6 372.2,1065.1 373.5,1063.5 374.7,1062.0 376.0,1060.4 377.3,1058.9 378.5,1057.3 379.8,1055.8 381.1,1054.2 382.3,1052.7 383.6,1051.1 384.9,1049.6 386.1,1048.0 387.4,1046.5 388.6,1044.9 389.8,1043.3 391.0,1041.7 392.2,1040.1 393.4,1038.5 394.6,1036.9 395.7,1035.2 396.9,1033.6 398.0,1032.0 399.1,1030.3 400.3,1028.7 401.4,1027.0 402.5,1025.4 403.7,1023.7 404.9,1022.1 406.1,1020.5 407.3,1018.9 408.5,1017.4 409.7,1015.8 411.0,1014.2 412.3,1012.7 413.6,1011.2 414.8,1009.6 416.2,1008.1 417.5,1006.6 418.8,1005.1 420.1,1003.6 421.5,1002.1 422.8,1000.7 424.2,999.2 425.6,997.8 427.0,996.3 428.4,994.9 429.8,993.5 431.2,992.0 432.6,990.6 434.0,989.2 435.5,987.9 436.9,986.5 438.4,985.1 439.8,983.8 441.3,982.4 442.8,981.1 444.3,979.7 445.8,978.4 447.3,977.1 448.8,975.8 450.3,974.5 451.8,973.2 453.4,971.9 454.9,970.6 456.5,969.3 458.0,968.1 459.6,966.8 461.1,965.6 462.7,964.3 464.3,963.1 465.9,961.9 467.5,960.7 469.1,959.5 470.7,958.4 472.3,957.2 474.0,956.1 475.6,954.9 477.3,953.8 479.0,952.7 480.6,951.6 482.3,950.5 483.9,949.3 485.6,948.2 487.2,947.1 488.9,945.9 490.5,944.8 492.1,943.6 493.8,942.5 495.4,941.3 497.0,940.2 498.7,939.0 500.3,937.9 501.9,936.7 503.6,935.6 505.2,934.4 506.9,933.3 508.5,932.1 510.1,931.0 511.8,929.8 513.4,928.7 515.1,927.6 516.7,926.4 518.4,925.3 520.0,924.2 521.7,923.1 523.3,921.9 525.0,920.8 526.6,919.7 528.3,918.5 529.9,917.4 531.5,916.2 533.2,915.1 534.8,913.9 536.4,912.7 538.0,911.5 539.6,910.3 541.2,909.1 542.7,907.8 544.3,906.6 545.8,905.3 547.4,904.0 548.9,902.8 550.4,901.5 552.0,900.2 553.5,898.9 555.0,897.5 556.5,896.2 558.0,894.9 559.5,893.6 561.0,892.3 562.5,891.0 564.0,889.7 565.5,888.3 567.0,887.0 568.5,885.7 570.0,884.4 571.5,883.0 573.0,881.7 574.5,880.3 575.9,879.0 577.4,877.6 578.9,876.2 580.3,874.9 581.8,873.5 583.3,872.2 584.8,870.9 586.3,869.6 587.8,868.3 589.4,867.0 590.9,865.7 592.5,864.5 594.1,863.3 595.7,862.1 597.3,861.0 599.0,859.8 600.6,858.7 602.3,857.6 604.0,856.6 605.7,855.5 607.4,854.5 609.1,853.5 610.9,852.5 612.6,851.5 614.4,850.6 616.2,849.7 618.0,848.8 619.8,848.0 621.6,847.2 623.5,846.4 625.3,845.7 627.2,845.0 629.1,844.4 631.0,843.8 632.9,843.3 634.9,842.7 636.8,842.2 638.7,841.7 640.7,841.2 642.6,840.8 644.6,840.3 646.5,839.8 648.5,839.4 650.4,838.9 652.3,838.4 654.3,837.9 656.2,837.5 658.2,837.0 660.1,836.5 662.1,836.1 664.0,835.6 665.9,835.1 667.9,834.6 669.8,834.1 671.8,833.6 673.7,833.1 675.6,832.6 677.5,832.0 679.5,831.5 681.4,830.9 683.3,830.3 685.2,829.6 687.1,829.0 688.9,828.3 690.8,827.6 692.7,826.9 694.6,826.2 696.4,825.4 698.2,824.7 700.1,823.8 701.9,823.0 703.7,822.1 705.5,821.2 707.2,820.3 709.0,819.4 710.7,818.4 712.5,817.4 714.2,816.4 716.0,815.5 717.7,814.5 719.4,813.4 721.2,812.4 722.9,811.4 724.6,810.4 726.3,809.4 728.0,808.4 729.7,807.3 731.5,806.3 733.2,805.3 734.9,804.2 736.6,803.2 738.3,802.1 740.0,801.0 741.7,800.0 743.3,798.9 745.0,797.8 746.7,796.7 748.4,795.6 750.0,794.5 751.7,793.4 753.3,792.3 755.0,791.1 756.6,790.0 758.2,788.8 759.8,787.6 761.4,786.3 762.9,785.1 764.5,783.8 766.0,782.5 767.5,781.1 768.9,779.8 770.4,778.4 771.8,777.0 773.3,775.7 774.7,774.3 776.1,772.9 777.6,771.5 779.0,770.0 780.4,768.6 781.8,767.2 783.2,765.8 784.6,764.4 786.0,763.0 787.5,761.5 788.9,760.1 790.3,758.7 791.7,757.3 793.1,755.9 794.6,754.5 796.0,753.2 797.5,751.8 799.0,750.5 800.5,749.2 802.0,747.9 803.6,746.6 805.2,745.4 806.8,744.2 808.4,743.0 810.0,741.8 811.6,740.6 813.2,739.4 814.8,738.3 816.4,737.1 818.1,735.9 819.7,734.8 821.3,733.6 822.9,732.4 824.5,731.2 826.2,730.1 827.8,728.9 829.4,727.8 831.1,726.6 832.7,725.5 834.4,724.4 836.1,723.4 837.8,722.4 839.6,721.4 841.3,720.4 843.1,719.4 844.8,718.5 846.6,717.6 848.4,716.8 850.2,715.9 852.1,715.1 853.9,714.3 855.8,713.6 857.6,712.9 859.5,712.2 861.4,711.5 863.3,710.8 865.2,710.2 867.1,709.5 869.0,708.9 870.9,708.3 872.8,707.7 874.7,707.1 876.6,706.4 878.5,705.8 880.4,705.3 882.3,704.7 884.2,704.1 886.1,703.6 888.1,703.1 890.0,702.6 892.0,702.1 893.9,701.7 895.9,701.2 897.8,700.8 899.8,700.4 901.7,699.9 903.7,699.5 905.6,699.0 907.5,698.5 909.5,698.0 911.4,697.4 913.3,696.8 915.2,696.3 917.1,695.7 919.1,695.2 921.0,694.6 922.9,694.1 924.9,693.6 926.8,693.1 928.7,692.7 930.7,692.2 932.6,691.8 934.6,691.3 936.5,690.9 938.5,690.5 940.4,690.0 942.4,689.6 944.3,689.1 946.3,688.6 948.2,688.2 950.2,687.7 952.1,687.3 954.1,686.9 956.0,686.5 958.0,686.1 960.0,685.7 961.9,685.4 963.9,685.1 965.9,684.8 967.9,684.6 969.9,684.4 971.9,684.2 973.9,684.1 975.8,684.0 977.8,683.9 979.8,683.9 981.8,684.0 983.8,684.1 985.8,684.3 987.7,684.6 989.6,685.0 991.5,685.6 993.3,686.4 995.0,687.3 996.6,688.4 998.1,689.6 999.6,691.0 1001.0,692.3 1002.4,693.8 1003.8,695.2 1005.2,696.7 1006.6,698.1 1008.0,699.4 1009.5,700.7 1011.1,702.0 1012.7,703.2 1014.3,704.3 1016.0,705.3 1017.7,706.3 1019.5,707.3 1021.2,708.2 1023.0,709.0 1024.9,709.8 1026.7,710.6 1028.6,711.2 1030.5,711.8 1032.4,712.4 1034.4,712.8 1036.3,713.2 1038.3,713.5 1040.3,713.8 1042.2,714.2 1044.2,714.5 1046.2,714.8 1048.1,715.2 1050.1,715.6 1052.0,715.9 1054.0,716.3 1056.0,716.5 1058.0,716.7 1059.9,716.8 1061.9,716.8 1063.9,716.7 1065.9,716.5 1067.9,716.2 1069.8,715.9 1071.8,715.6 1073.8,715.2 1075.7,714.8 1077.7,714.5 1079.7,714.1 1081.6,713.7 1083.6,713.3 1085.6,713.0 1087.5,712.6 1089.5,712.2 1091.4,711.8 1093.4,711.4 1095.4,711.0 1097.3,710.6 1099.3,710.1 1101.2,709.6 1103.1,709.1 1105.1,708.6 1107.0,708.1 1108.9,707.5 1110.8,706.9 1112.7,706.3 1114.6,705.7 1116.5,705.1 1118.4,704.5 1120.4,703.9 1122.3,703.3 1124.2,702.7 1126.1,702.2 1128.0,701.6 1129.9,701.1 1131.9,700.5 1133.8,700.0 1135.7,699.5 1137.7,699.0 1139.6,698.5 1141.5,698.0 1143.5,697.6 1145.4,697.1 1147.4,696.7 1149.4,696.4 1151.3,696.0 1153.3,695.7 1155.3,695.5 1157.3,695.3 1159.3,695.2 1161.3,695.1 1163.3,695.1 1165.3,695.1 1167.2,695.1 1169.2,695.2 1171.2,695.3 1173.2,695.5 1175.2,695.6 1177.2,695.9 1179.2,696.1 1181.2,696.4 1183.1,696.7 1185.1,697.0 1187.1,697.3 1189.1,697.6 1191.0,698.0 1193.0,698.3 1195.0,698.6 1197.0,698.9 1198.9,699.2 1200.9,699.5 1202.9,699.9 1204.9,700.2 1206.8,700.5 1208.8,700.9 1210.8,701.2 1212.7,701.6 1214.7,702.0 1216.7,702.4 1218.6,702.8 1220.6,703.1 1222.5,703.5 1224.5,703.7 1226.5,703.9 1228.5,704.0 1230.5,704.0 1232.5,704.0 1234.4,703.8 1236.4,703.6 1238.4,703.3 1240.3,702.9 1242.3,702.5 1244.3,702.1 1246.2,701.6 1248.1,701.1 1250.0,700.5 1252.0,700.0 1253.9,699.4 1255.8,698.7 1257.6,698.1 1259.5,697.3 1261.4,696.6 1263.2,695.8 1265.0,695.0 1266.9,694.2 1268.6,693.3 1270.4,692.4 1272.2,691.5 1273.9,690.5 1275.6,689.4 1277.3,688.4 1279.0,687.3 1280.6,686.1 1282.2,685.0 1283.9,683.8 1285.5,682.6 1287.0,681.4 1288.6,680.1 1290.2,678.9 1291.7,677.6 1293.2,676.3 1294.7,674.9 1296.1,673.6 1297.6,672.2 1299.0,670.8 1300.4,669.4 1301.8,667.9 1303.2,666.5 1304.6,665.1 1306.0,663.7 1307.5,662.3 1309.0,661.0 1310.4,659.6 1311.9,658.3 1313.4,656.9 1314.9,655.6 1316.4,654.2 1317.9,652.9 1319.3,651.6 1320.8,650.3 1322.3,648.9 1323.8,647.6 1325.3,646.3 1326.8,644.9 1328.3,643.6 1329.8,642.3 1331.3,641.0 1332.8,639.6 1334.3,638.3 1335.8,637.0 1337.3,635.7 1338.9,634.4 1340.4,633.1 1341.9,631.8 1343.4,630.5 1344.9,629.2 1346.4,627.9 1348.0,626.6 1349.5,625.3 1351.0,624.0 1352.6,622.7 1354.1,621.4 1355.6,620.2 1357.2,618.9 1358.7,617.6 1360.3,616.4 1361.9,615.2 1363.5,614.0 1365.1,612.8 1366.7,611.6 1368.3,610.4 1370.0,609.3 1371.6,608.1 1373.2,607.0 1374.9,605.8 1376.5,604.6 1378.1,603.5 1379.7,602.3 1381.3,601.0 1382.8,599.8 1384.4,598.5 1385.9,597.2 1387.3,595.9 1388.8,594.5 1390.2,593.1 1391.7,591.7 1393.1,590.3 1394.4,588.8 1395.8,587.3 1397.1,585.9 1398.4,584.4 1399.7,582.8 1401.0,581.3 1402.3,579.7 1403.5,578.2 1404.7,576.6 1406.0,575.0 1407.2,573.4 1408.4,571.8 1409.6,570.2 1410.8,568.6 1412.0,567.0 1413.2,565.4 1414.3,563.8 1415.5,562.2 1416.7,560.6 1417.9,559.0 1419.0,557.3 1420.2,555.7 1421.4,554.1 1422.5,552.5 1423.7,550.8 1424.9,549.2 1426.1,547.6 1427.3,546.0 1428.5,544.4 1429.7,542.8 1430.9,541.2 1432.1,539.6 1433.2,538.0 1434.3,536.3 1435.4,534.6 1436.5,532.9 1437.4,531.2 1438.3,529.4 1439.2,527.6 1440.0,525.8 1440.7,524.0 1441.5,522.1 1442.2,520.2 1442.8,518.3 1443.5,516.5 1444.2,514.6 1444.9,512.7 1445.6,510.8 1446.3,509.0 1447.0,507.1 1447.7,505.2 1448.4,503.4 1449.1,501.5 1449.8,499.6 1450.4,497.7 1451.0,495.8 1451.6,493.9 1452.2,492.0 1452.7,490.0 1453.3,488.1 1453.8,486.2 1454.3,484.3 1454.9,482.3 1455.4,480.4 1455.9,478.5 1456.4,476.5 1456.9,474.6 1457.5,472.7 1458.0,470.7 1458.5,468.8 1459.0,466.9 1459.5,464.9 1460.0,463.0 1460.5,461.1 1461.0,459.1 1461.4,457.2 1461.9,455.2 1462.3,453.3 1462.7,451.3 1463.1,449.4 1463.5,447.4 1463.9,445.4 1464.3,443.5 1464.7,441.5 1465.1,439.6 1465.5,437.6 1465.8,435.6 1466.2,433.7 1466.6,431.7 1467.0,429.7 1467.4,427.8 1467.8,425.8 1468.2,423.9 1468.6,421.9 1469.0,419.9 1469.5,418.0 1469.9,416.0 1470.4,414.1 1470.8,412.2 1471.3,410.2 1471.7,408.3 1472.2,406.3 1472.7,404.4 1473.1,402.4 1473.5,400.5 1474.0,398.5 1474.4,396.6 1474.8,394.6 1475.2,392.6 1475.6,390.7 1476.0,388.7 1476.4,386.8 1476.8,384.8 1477.3,382.9 1477.7,380.9 1478.1,378.9 1478.5,377.0 1478.9,375.0 1479.3,373.1 1479.7,371.1 1480.1,369.2 1480.5,367.2 1480.9,365.2 1481.2,363.3 1481.6,361.3 1481.9,359.3 1482.2,357.3 1482.6,355.4 1482.9,353.4 1483.3,351.4 1483.7,349.5 1484.1,347.5 1484.5,345.6 1485.0,343.6 1485.5,341.7 1486.0,339.8 1486.6,337.8 1487.1,335.9 1487.8,334.0 1488.5,332.2 1489.2,330.3 1490.0,328.5 1490.9,326.7 1491.8,325.0 1492.8,323.4 1493.9,322.0 1495.0,320.9 1496.3,320.2 1497.6,320.1 1498.9,320.4 1500.1,321.2 1501.3,322.4 1502.4,323.8 1503.4,325.4 1504.4,327.1 1505.4,328.9 1506.2,330.7 1507.1,332.5 1507.9,334.3 1508.7,336.1 1509.5,338.0 1510.3,339.8 1511.0,341.7 1511.7,343.5 1512.3,345.4 1513.0,347.3 1513.6,349.2 1514.2,351.1 1514.7,353.1 1515.3,355.0 1515.8,356.9 1516.3,358.8 1516.9,360.8 1517.4,362.7 1518.0,364.6 1518.5,366.5 1519.1,368.4 1519.7,370.4 1520.3,372.3 1520.9,374.2 1521.5,376.1 1522.1,378.0 1522.7,379.9 1523.3,381.8 1523.9,383.7 1524.4,385.6 1524.9,387.6 1525.5,389.5 1526.0,391.4 1526.5,393.4 1527.0,395.3 1527.5,397.2 1528.0,399.2 1528.5,401.1 1529.0,403.0 1529.5,405.0 1530.1,406.9 1530.6,408.8 1531.1,410.8 1531.6,412.7 1532.1,414.6 1532.6,416.6 1533.2,418.5 1533.7,420.4 1534.2,422.4 1534.8,424.3 1535.3,426.2 1535.8,428.1 1536.4,430.1 1536.9,432.0 1537.4,433.9 1537.9,435.9 1538.4,437.8 1538.9,439.7 1539.3,441.7 1539.7,443.6 1540.2,445.6 1540.6,447.6 1541.0,449.5 1541.4,451.5 1541.8,453.4 1542.2,455.4 1542.6,457.4 1543.0,459.3 1543.4,461.3 1543.8,463.2 1544.2,465.2 1544.6,467.1 1545.0,469.1 1545.5,471.1 1545.9,473.0 1546.3,475.0 1546.8,476.9 1547.2,478.9 1547.7,480.8 1548.1,482.8 1548.6,484.7 1549.0,486.6 1549.5,488.6 1549.9,490.5 1550.3,492.5 1550.7,494.5 1551.1,496.4 1551.5,498.4 1551.8,500.4 1552.2,502.3 1552.5,504.3 1552.8,506.3 1553.0,508.3 1553.3,510.2 1553.6,512.2 1553.9,514.2 1554.2,516.2 1554.5,518.2 1554.8,520.1 1555.1,522.1 1555.4,524.1 1555.7,526.1 1556.0,528.0 1556.3,530.0 1556.6,532.0 1556.9,534.0 1557.3,535.9 1557.6,537.9 1557.9,539.9 1558.3,541.9 1558.6,543.8 1558.9,545.8 1559.3,547.8 1559.6,549.7 1560.0,551.7 1560.3,553.7 1560.6,555.7 1561.0,557.6 1561.3,559.6 1561.7,561.6 1562.0,563.5 1562.4,565.5 1562.7,567.5 1563.0,569.4 1563.4,571.4 1563.7,573.4 1564.1,575.4 1564.4,577.3 1564.7,579.3 1565.0,581.3 1565.4,583.3 1565.7,585.2 1566.0,587.2 1566.4,589.2 1566.7,591.1 1567.1,593.1 1567.4,595.1 1567.8,597.0 1568.2,599.0 1568.5,601.0 1568.9,602.9 1569.3,604.9 1569.6,606.9 1570.0,608.8 1570.4,610.8 1570.8,612.8 1571.1,614.7 1571.5,616.7 1571.9,618.7 1572.3,620.6 1572.7,622.6 1573.0,624.5 1573.4,626.5 1573.8,628.5 1574.2,630.4 1574.6,632.4 1574.9,634.4 1575.3,636.3 1575.7,638.3 1576.1,640.2 1576.5,642.2 1576.9,644.2 1577.3,646.1 1577.8,648.1 1578.2,650.0 1578.6,652.0 1579.1,653.9 1579.5,655.9 1580.0,657.8 1580.4,659.8 1580.9,661.7 1581.4,663.7 1581.9,665.6 1582.3,667.5 1582.8,669.5 1583.3,671.4 1583.8,673.4 1584.4,675.3 1584.9,677.2 1585.4,679.1 1585.9,681.1 1586.4,683.0 1587.0,684.9 1587.5,686.9 1588.0,688.8 1588.5,690.7 1589.1,692.7 1589.6,694.6 1590.2,696.5 1590.8,698.4 1591.4,700.3 1592.0,702.2 1592.7,704.1 1593.4,706.0 1594.1,707.8 1594.9,709.7 1595.7,711.5 1596.6,713.3 1597.5,715.1 1598.4,716.8 1599.4,718.6 1600.4,720.3 1601.5,722.0 1602.6,723.6 1603.7,725.3 1604.8,726.9 1606.0,728.5 1607.3,730.1 1608.6,731.6 1609.9,733.1 1611.2,734.6 1612.6,736.0 1614.0,737.5 1615.4,738.9 1616.9,740.2 1618.3,741.6 1619.8,743.0 1621.2,744.3 1622.7,745.7 1624.2,747.0 1625.7,748.3 1627.2,749.6 1628.8,750.9 1630.3,752.2 1631.9,753.5 1633.4,754.7 1635.0,755.9 1636.6,757.1 1638.2,758.3 1639.9,759.4 1641.5,760.6 1643.2,761.6 1644.9,762.7 1646.6,763.7 1648.4,764.7 1650.1,765.6 1651.9,766.4 1653.8,767.2 1655.6,767.9 1657.5,768.6 1659.4,769.3 1661.3,769.9 1663.2,770.4 1665.1,771.0 1667.1,771.5 1669.0,772.0 1670.9,772.5 1672.9,772.9 1674.8,773.3 1676.8,773.6 1678.8,773.9 1680.8,774.1 1682.8,774.3 1684.7,774.4 1686.7,774.5 1688.7,774.5 1690.7,774.5 1692.7,774.5 1694.7,774.4 1696.7,774.4 1698.7,774.3 1700.7,774.2 1702.7,774.1 1704.7,774.1 1706.7,774.0 1708.7,773.9 1710.7,773.8 1712.7,773.7 1714.7,773.6 1716.7,773.5 1718.7,773.4 1720.7,773.3 1722.7,773.2 1724.7,773.1 1726.7,773.1 1728.7,773.0 1730.7,772.9 1732.7,772.8 1734.7,772.8 1736.7,772.7 1738.7,772.6 1740.7,772.5 1742.7,772.4 1744.7,772.4 1746.7,772.3 1748.7,772.2 1750.7,772.1 1752.7,772.0 1754.7,772.0 1756.7,771.9 1758.7,771.9 1760.7,771.9 1762.7,771.9 1764.7,771.9 1766.7,772.0 1768.7,772.1 1770.6,772.2 1772.6,772.5 1774.6,772.8 1776.5,773.1 1778.5,773.6 1780.4,774.1 1782.3,774.6 1784.2,775.2 1786.1,775.9 1788.0,776.5 1789.9,777.2 1791.8,777.9 1793.7,778.5 1795.6,779.2 1797.4,780.0 1799.3,780.7 1801.2,781.4 1803.0,782.1 1804.9,782.8 1806.7,783.6 1808.6,784.3 1810.5,785.0 1812.3,785.8 1814.2,786.5 1816.1,787.2 1817.9,788.0 1819.8,788.7 1821.6,789.5 1823.5,790.2 1825.3,791.0 1827.2,791.7 1829.0,792.5 1830.9,793.3 1832.7,794.0 1834.6,794.8 1836.4,795.6 1838.3,796.3 1840.1,797.1 1842.0,797.9 1843.8,798.6 1845.6,799.4 1847.5,800.2 1849.3,800.9 1851.2,801.6 1853.1,802.3 1855.0,802.9 1856.9,803.4 1858.8,803.8 1860.8,804.1 1862.7,804.3 1864.7,804.3 1866.7,804.2 1868.6,804.0 1870.6,803.7 1872.5,803.2 1874.5,802.8 1876.4,802.3 1878.3,801.7 1880.2,801.2 1882.2,800.6 1884.1,800.1 1886.0,799.6 1888.0,799.1 1889.9,798.7 1891.9,798.3 1893.8,797.9 1895.8,797.5 1897.8,797.1 1899.7,796.8 1901.7,796.4 1903.7,796.0 1905.6,795.6 1907.6,795.2 1909.5,794.8 1911.5,794.4 1913.4,794.0 1915.4,793.5 1917.3,793.0 1919.3,792.5 1921.2,792.0 1923.1,791.4 1925.0,790.9 1927.0,790.3 1928.9,789.7 1930.8,789.2 1932.7,788.6 1934.6,788.1 1936.5,787.5 1938.5,786.9 1940.4,786.3 1942.3,785.7 1944.2,785.2 1946.1,784.6 1948.0,784.2 1950.0,783.8 1951.9,783.5 1953.9,783.4 1955.9,783.4 1957.8,783.5 1959.8,783.9 1961.7,784.3 1963.6,784.9 1965.4,785.5 1967.3,786.3 1969.1,787.1 1970.9,788.0 1972.7,788.9 1974.4,789.8 1976.2,790.8 1977.9,791.8 1979.6,792.9 1981.3,794.0 1982.9,795.1 1984.6,796.2 1986.2,797.4 1987.8,798.5 1989.5,799.7 1991.1,800.9 1992.7,802.0 1994.3,803.2 1995.9,804.4 1997.6,805.5 1999.2,806.7 2000.8,807.9 2002.4,809.1 2004.0,810.3 2005.6,811.5 2007.1,812.8 2008.7,814.0 2010.2,815.3 2011.8,816.6 2013.3,817.9 2014.8,819.2 2016.3,820.5 2017.8,821.8 2019.3,823.2 2020.8,824.5 2022.2,825.9 2023.7,827.2 2025.2,828.6 2026.6,830.0 2028.1,831.3 2029.5,832.7 2031.0,834.1 2032.4,835.5 2033.8,836.9 2035.3,838.3 2036.7,839.7 2038.1,841.1 2039.5,842.5 2040.9,843.9 2042.3,845.3 2043.7,846.8 2045.1,848.2 2046.4,849.7 2047.8,851.2 2049.1,852.7 2050.5,854.2 2051.8,855.6 2053.2,857.1 2054.6,858.5 2056.0,859.9 2057.5,861.2 2059.1,862.4 2060.7,863.6 2062.3,864.7 2064.0,865.8 2065.8,866.7 2067.5,867.6 2069.3,868.5 2071.2,869.3 2073.0,870.0 2074.9,870.8 2076.7,871.4 2078.6,872.0 2080.6,872.6 2082.5,873.2 2084.4,873.7 2086.4,874.1 2088.3,874.5 2090.3,874.9 2092.2,875.3 2094.2,875.6 2096.2,875.9 2098.2,876.1 2100.2,876.4 2102.1,876.6 2104.1,876.9 2106.1,877.1 2108.1,877.3 2110.1,877.6 2112.1,877.8 2114.1,878.0 2116.0,878.3 2118.0,878.5 2120.0,878.8 2122.0,879.1 2123.9,879.5 2125.9,879.9 2127.9,880.3 2129.8,880.7 2131.7,881.3 2133.6,881.8 2135.5,882.5 2137.3,883.2 2139.1,884.1 2140.9,885.0 2142.6,886.0 2144.2,887.1 2145.9,888.3 2147.4,889.5 2149.0,890.7 2150.6,891.9 2152.2,893.1 2153.8,894.4 2155.4,895.5 2157.0,896.7 2158.7,897.8 2160.3,899.0 2162.0,900.1 2163.6,901.2 2165.3,902.2 2167.0,903.3 2168.7,904.4 2170.4,905.4 2172.1,906.5 2173.8,907.5 2175.5,908.5 2177.2,909.6 2178.9,910.7 2180.6,911.8 2182.2,912.9 2183.8,914.0 2185.4,914.9 2186.9,915.7 2188.4,916.2 2189.8,916.3 2191.0,916.0 2192.1,915.2 2193.0,914.2 2193.7,913.1 2194.2,912.0 2194.6,911.1 2195.7,908.0" fill="none" stroke="#00ff00" stroke-width="23" stroke-linejoin="round" stroke-linecap="round"/>
<line x1="1551" y1="151.5" x2="1697" y2="151.5" stroke="#000080" stroke-width="5" stroke-linecap="round"/>
<circle cx="1623" cy="150.5" r="11" fill="#0000ff"/>
<line x1="1551" y1="225.5" x2="1697" y2="225.5" stroke="#ff0000" stroke-width="5" stroke-linecap="round"/>
<circle cx="1623" cy="224.5" r="11" fill="#ff0000"/>
<line x1="1551" y1="300.4" x2="1697" y2="300.4" stroke="#00ff00" stroke-width="5" stroke-linecap="round"/>
<circle cx="1623" cy="299.4" r="11" fill="#00ff00"/>
<text font-family="Liberation Serif, Times New Roman, serif" font-size="64" fill="#000" text-anchor="start" transform="translate(1734.42,169.90) scale(0.9712,1)">TG</text>
<text font-family="Liberation Serif, Times New Roman, serif" font-size="64" fill="#000" text-anchor="start" transform="translate(1732.95,245.80) scale(0.9750,1)">DTG</text>
<text font-family="Liberation Serif, Times New Roman, serif" font-size="64" fill="#000" text-anchor="start" transform="translate(1732.79,320.30) scale(0.9536,1)">DTA</text>
</svg></body></html>
